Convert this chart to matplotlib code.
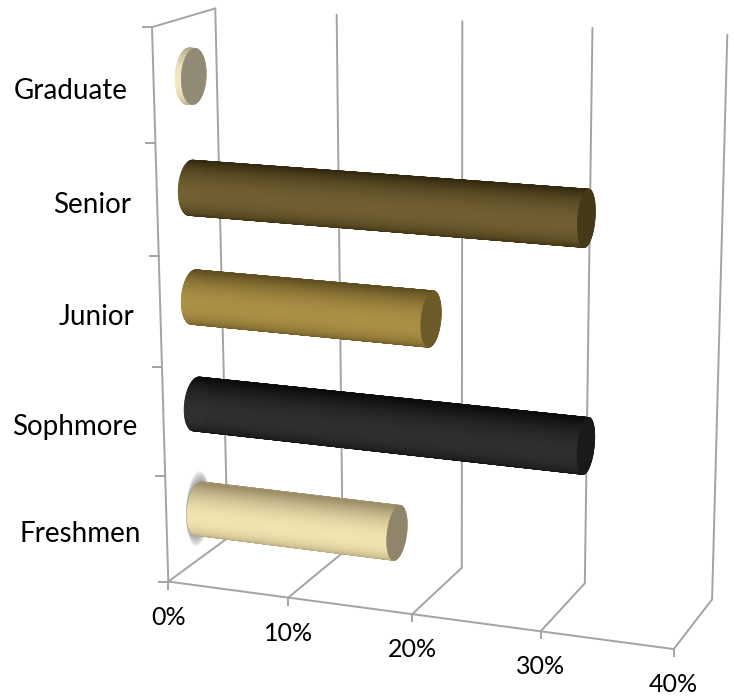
import numpy as np
import matplotlib
matplotlib.use('Agg')
import matplotlib.pyplot as plt
from matplotlib.collections import PolyCollection
from matplotlib.colors import to_rgb

plt.rcParams['font.family'] = ['Lato', 'DejaVu Sans']

# bottom to top
categories = ['Freshmen', 'Sophmore', 'Junior', 'Senior', 'Graduate']
values = [16.6, 31.5, 19.4, 31.3, 0.5]
x_ticks = [0, 10, 20, 30, 40]
x_labels = ['0%', '10%', '20%', '30%', '40%']

light_colors = ['#f2e4b0', '#2f2f2f', '#ab8f45', '#705f30', '#f4e8c4']
dark_colors = ['#9c8f68', '#0c0c0c', '#5f4e20', '#33290f', '#b0a684']
cap_colors = ['#8f8568', '#1a1a1a', '#6d5a29', '#453a17', '#918b75']

grid_color = '#a3a3a3'
RD = 0.2    # cylinder radius in depth units
RV = 0.245  # cylinder radius in category units
D0 = 0.53   # cylinder centre in depth
Z_OFF = 0.48

# reference points of the 3d box: (value, depth, category pos) -> pixel
box = [(0, 0, 0, 168, 581), (10, 0, 0, 288, 597), (20, 0, 0, 413, 614),
       (30, 0, 0, 542, 632), (40, 0, 0, 672, 650),
       (0, 1, 0, 227, 537), (10, 1, 0, 343, 553), (20, 1, 0, 462, 569),
       (30, 1, 0, 585, 584), (40, 1, 0, 712, 598),
       (0, 0, 5, 152, 27), (0, 1, 5, 214, 9), (10, 1, 5, 337, 15),
       (20, 1, 5, 463, 22), (30, 1, 5, 595, 28), (40, 1, 5, 725, 33)]

rows = []
rhs = []
for a, b, c, px, py in box:
    rows.append([a, b, c, 1, 0, 0, 0, 0, -px * a, -px * b, -px * c])
    rows.append([0, 0, 0, 0, a, b, c, 1, -py * a, -py * b, -py * c])
    rhs += [px, py]
P = np.append(np.linalg.lstsq(np.array(rows, float), np.array(rhs, float), rcond=None)[0], 1).reshape(3, 4)


def project(v, d, z):
    v, d, z = np.broadcast_arrays(v, d, z)
    pts = np.stack([v, d, z, np.ones_like(v, dtype=float)])
    q = P @ pts
    return q[0] / q[2], q[1] / q[2]


fig = plt.figure(figsize=(7.34, 6.96), dpi=100)
ax = fig.add_axes([0, 0, 1, 1])
ax.set_xlim(0, 734)
ax.set_ylim(696, 0)
ax.axis('off')


def line3d(p0, p1):
    x, y = project(np.array([p0[0], p1[0]], float), np.array([p0[1], p1[1]], float), np.array([p0[2], p1[2]], float))
    ax.plot(x, y, color=grid_color, lw=1.4, solid_capstyle='round', zorder=1)


# walls and floor
for t in x_ticks:
    line3d((t, 0, 0), (t, 1, 0))
    line3d((t, 1, 0), (t, 1, 5))
line3d((0, 0, 0), (40, 0, 0))
line3d((0, 0, 0), (0, 0, 5))
line3d((0, 0, 5), (0, 1, 5))

# tick marks and value labels
for t, lab in zip(x_ticks, x_labels):
    x, y = project(t, 0, 0)
    ax.plot([x, x], [y, y + 7], color=grid_color, lw=1.4, zorder=1)
    ax.text(x, y + 35.5, lab, ha='center', va='center', fontsize=18, color='black')
for z in range(6):
    x, y = project(0, 0, z)
    ax.plot([x - 9, x], [y, y], color=grid_color, lw=1.4, zorder=1)

# soft smudge behind the first bar
theta = np.linspace(0, 2 * np.pi, 60)
for grow in np.linspace(1.45, 1.0, 10):
    gx, gy = project(0.0, D0 + RD * np.cos(theta), Z_OFF + RV * grow * np.sin(theta))
    ax.fill(gx - 1, gy, color='#707070', alpha=0.09, lw=0, zorder=2)

# cylinders
n = 96
angles = np.linspace(0, 2 * np.pi, n + 1)
for i, (name, val) in enumerate(zip(categories, values)):
    z0 = i + Z_OFF
    lo = np.array(to_rgb(light_colors[i]))
    hi = np.array(to_rgb(dark_colors[i]))
    polys = []
    cols = []
    order = sorted(range(n), key=lambda k: -np.cos((angles[k] + angles[k + 1]) / 2))
    for k in order:
        a0, a1 = angles[k], angles[k + 1]
        d = D0 + RD * np.cos([a0, a1, a1, a0])
        z = z0 + RV * np.sin([a0, a1, a1, a0])
        v = np.array([0, 0, val, val], float)
        qx, qy = project(v, d, z)
        polys.append(np.column_stack([qx, qy]))
        f = abs(np.cos((a0 + a1) / 2)) ** 1.4
        cols.append(hi + (lo - hi) * f)
    ax.add_collection(PolyCollection(polys, facecolors=cols, edgecolors=cols, linewidths=0.6, zorder=3))
    cx, cy = project(val, D0 + RD * np.cos(theta), z0 + RV * np.sin(theta))
    ax.fill(cx, cy, color=cap_colors[i], lw=0.5, zorder=4)

    lx, ly = project(0, 0, z0)
    ax.text(lx - 26, ly + 3, name, ha='right', va='center', fontsize=20, color='black')

fig.savefig('out.png', dpi=100)
